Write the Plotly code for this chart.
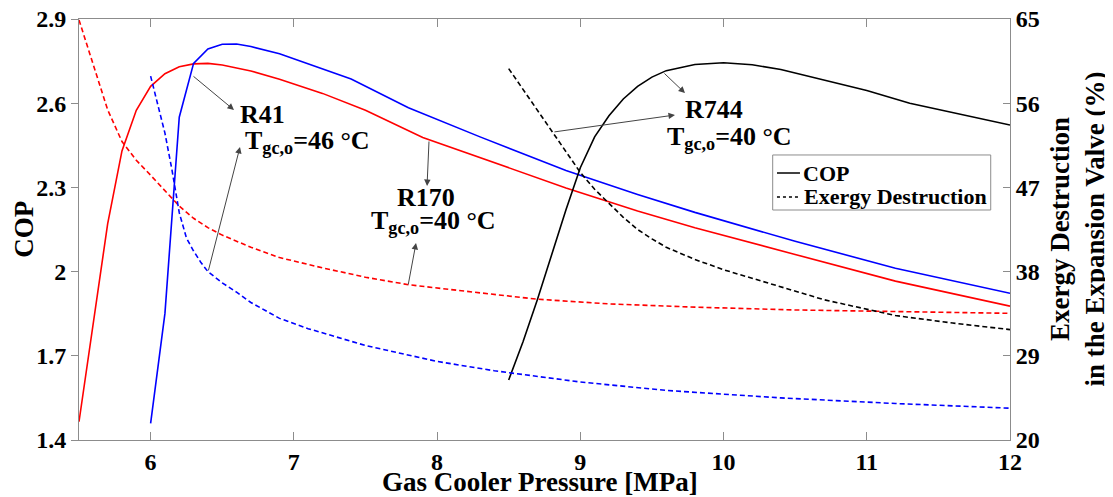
import plotly.graph_objects as go

# ---------------- data ----------------
# R170 (red) COP
p_r170_cop = [5.5, 5.6, 5.7, 5.8, 5.9, 6.0, 6.1, 6.2, 6.3, 6.4, 6.5, 6.7, 6.9, 7.2, 7.5, 7.9,
              8.4, 8.9, 9.4, 9.8, 10.5, 11.2, 12.0]
cop_r170 = [1.465, 1.82, 2.17, 2.43, 2.575, 2.66, 2.705, 2.73, 2.74, 2.742, 2.736, 2.715, 2.685,
            2.635, 2.575, 2.478, 2.387, 2.298, 2.216, 2.156, 2.061, 1.966, 1.877]

# R41 (blue) COP
p_r41_cop = [6.0, 6.1, 6.2, 6.3, 6.4, 6.5, 6.6, 6.7, 6.9, 7.1, 7.4, 7.8, 8.3, 8.9, 9.4, 9.8,
             10.5, 11.2, 12.0]
cop_r41 = [1.459, 1.851, 2.55, 2.742, 2.793, 2.81, 2.811, 2.802, 2.776, 2.741, 2.686, 2.584,
           2.48, 2.36, 2.275, 2.211, 2.108, 2.012, 1.923]

# R744 (black) COP
p_r744_cop = [8.5, 8.6, 8.7, 8.8, 8.9, 9.0, 9.1, 9.2, 9.3, 9.4, 9.5, 9.6, 9.8, 10.0, 10.2, 10.4,
              10.7, 11.0, 11.3, 11.6, 12.0]
cop_r744 = [1.614, 1.75, 1.90, 2.06, 2.22, 2.37, 2.48, 2.555, 2.615, 2.66, 2.693, 2.716, 2.738,
            2.744, 2.737, 2.72, 2.683, 2.645, 2.60, 2.567, 2.522]

# R170 (red) exergy destruction
p_r170_ed = [5.5, 5.6, 5.7, 5.8, 5.9, 6.0, 6.1, 6.2, 6.3, 6.4, 6.5, 6.7, 6.9, 7.2, 7.5, 7.8,
             8.2, 8.7, 9.2, 9.8, 10.5, 11.2, 12.0]
ed_r170 = [64.9, 60.0, 55.3, 51.9, 49.9, 48.3, 46.7, 45.0, 43.7, 42.7, 41.9, 40.6, 39.5, 38.4,
           37.4, 36.6, 35.9, 35.05, 34.55, 34.2, 33.9, 33.7, 33.54]

# R41 (blue) exergy destruction
p_r41_ed = [6.0, 6.05, 6.1, 6.15, 6.2, 6.25, 6.3, 6.35, 6.4, 6.5, 6.6, 6.7, 6.9, 7.1, 7.5, 8.0,
            8.4, 9.0, 9.6, 10.4, 11.2, 12.0]
ed_r41 = [58.9, 56.0, 52.8, 48.8, 44.3, 41.6, 40.2, 39.0, 38.0, 36.8, 35.8, 34.7, 33.0, 31.9,
          30.1, 28.4, 27.4, 26.2, 25.3, 24.5, 23.9, 23.4]

# R744 (black) exergy destruction
p_r744_ed = [8.5, 8.6, 8.7, 8.8, 8.9, 9.0, 9.1, 9.2, 9.3, 9.4, 9.5, 9.6, 9.8, 10.0, 10.3, 10.7,
             11.2, 11.6, 12.0]
ed_r744 = [59.7, 57.5, 55.3, 53.1, 50.9, 48.6, 46.8, 45.3, 43.8, 42.5, 41.5, 40.6, 39.3, 38.2,
           36.8, 35.0, 33.3, 32.5, 31.8]

x_ticks = [6, 7, 8, 9, 10, 11, 12]
cop_ticks = [1.4, 1.7, 2.0, 2.3, 2.6, 2.9]
cop_ticktext = ["1.4", "1.7", "2", "2.3", "2.6", "2.9"]
ed_ticks = [20, 29, 38, 47, 56, 65]

x_title = "Gas Cooler Pressure [MPa]"
y_title = "COP"
y2_title = "Exergy Destruction<br>in the Expansion Valve (%)"
legend_names = ["COP", "Exergy Destruction"]

# labels: (text line 1, text line 2, label centre x, label centre y, T-line left x, T-line y)
labels = [
    ("R41", "T<sub>gc,o</sub>=46 °C", 6.778, 2.558, 6.645, 2.461),
    ("R170", "T<sub>gc,o</sub>=40 °C", 7.923, 2.265, 7.525, 2.176),
    ("R744", "T<sub>gc,o</sub>=40 °C", 9.93, 2.579, 9.591, 2.475),
]
# arrows: (tail x, tail y, head x, head y) in COP-axis coordinates
arrows = [
    (6.289, 2.700, 6.582, 2.576),
    (6.401, 1.999, 6.624, 2.444),
    (7.944, 2.469, 7.930, 2.305),
    (7.797, 1.949, 7.853, 2.102),
    (9.577, 2.711, 9.731, 2.636),
    (8.809, 2.497, 9.661, 2.558),
]

FONT = "Liberation Serif, Times New Roman, serif"
RED, BLUE, BLACK = "#ff0000", "#0000ff", "#000000"
DASH = "5px,3px"
LW = 1.6
axis_line = "#8c8c8c"

fig = go.Figure()

def add(x, y, color, dash, axis):
    fig.add_trace(go.Scatter(x=x, y=y, mode="lines", yaxis=axis, showlegend=False,
                             line=dict(color=color, width=LW, dash=dash), hoverinfo="skip"))

add(p_r170_cop, cop_r170, RED, "solid", "y")
add(p_r41_cop, cop_r41, BLUE, "solid", "y")
add(p_r744_cop, cop_r744, BLACK, "solid", "y")
add(p_r170_ed, ed_r170, RED, DASH, "y2")
add(p_r41_ed, ed_r41, BLUE, DASH, "y2")
add(p_r744_ed, ed_r744, BLACK, DASH, "y2")

bold = lambda s: dict(family=FONT, size=s, color="black", weight="bold")

ann = []
for t1, t2, cx, cy, lx, ly in labels:
    ann.append(dict(x=cx, y=cy, xref="x", yref="y", text=t1, showarrow=False,
                    xanchor="center", yanchor="middle", font=bold(26)))
    ann.append(dict(x=lx, y=ly, xref="x", yref="y", text=t2, showarrow=False,
                    xanchor="left", yanchor="middle", font=bold(26)))
for tx, ty, hx, hy in arrows:
    ann.append(dict(x=hx, y=hy, xref="x", yref="y", ax=tx, ay=ty, axref="x", ayref="y",
                    text="", showarrow=True, arrowhead=2, arrowsize=1.3, arrowwidth=1,
                    arrowcolor="#444444", standoff=0, startstandoff=0))

# axis titles
ann.append(dict(x=0.495, y=-0.10, xref="paper", yref="paper", text=x_title, showarrow=False,
                xanchor="center", yanchor="middle", font=bold(27)))
ann.append(dict(x=-0.060, y=0.50, xref="paper", yref="paper", text=y_title, showarrow=False,
                xanchor="center", yanchor="middle", textangle=-90, font=bold(27)))
ann.append(dict(x=1.072, y=0.50, xref="paper", yref="paper", text=y2_title, showarrow=False,
                xanchor="center", yanchor="middle", textangle=-90, font=bold(27)))

# legend (box, line samples, texts)
leg_x0, leg_x1, leg_y0, leg_y1 = 0.7451, 0.9793, 0.5463, 0.6770
shapes = [
    dict(type="rect", xref="paper", yref="paper", x0=leg_x0, x1=leg_x1, y0=leg_y0, y1=leg_y1,
         line=dict(color=axis_line, width=1), fillcolor="white", layer="above"),
    dict(type="line", xref="paper", yref="paper", x0=0.7497, x1=0.7744, y0=0.6342, y1=0.6342,
         line=dict(color=BLACK, width=1.5), layer="above"),
    dict(type="line", xref="paper", yref="paper", x0=0.7497, x1=0.7744, y0=0.5772, y1=0.5772,
         line=dict(color=BLACK, width=1.5, dash="3px,3px"), layer="above"),
]
ann.append(dict(x=0.7750, y=0.6342, xref="paper", yref="paper", text=legend_names[0],
                showarrow=False, xanchor="left", yanchor="middle", font=bold(22)))
ann.append(dict(x=0.7770, y=0.5772, xref="paper", yref="paper", text=legend_names[1],
                showarrow=False, xanchor="left", yanchor="middle", font=bold(22)))

tickfont = bold(24)

# the page adds an 8 px body margin, so the figure is 8 px smaller and shifted
fig.update_layout(
    width=1105, height=489,
    margin=dict(l=71, r=103, t=11, b=57, autoexpand=False),
    paper_bgcolor="white", plot_bgcolor="white",
    annotations=ann, shapes=shapes, showlegend=False,
    xaxis=dict(range=[5.5, 12], tickvals=x_ticks, ticks="inside", ticklen=8, tickcolor=axis_line,
               showline=True, linecolor=axis_line, linewidth=1, mirror="ticks",
               showgrid=False, zeroline=False, tickfont=tickfont, automargin=False,
               ticklabelstandoff=0, ticklabeloverflow="allow"),
    yaxis=dict(range=[1.4, 2.9], tickvals=cop_ticks, ticktext=cop_ticktext, ticks="outside",
               ticklen=7, tickcolor=axis_line, showline=True, linecolor=axis_line, linewidth=1,
               showgrid=False, zeroline=False, tickfont=tickfont, automargin=False,
               ticklabeloverflow="allow"),
    yaxis2=dict(range=[20, 65], tickvals=ed_ticks, overlaying="y", side="right",
                ticks="inside", ticklen=7, tickcolor=axis_line, showline=True,
                linecolor=axis_line, linewidth=1, showgrid=False, zeroline=False,
                tickfont=tickfont, automargin=False, ticklabeloverflow="allow"),
)

fig.write_html("out.html")
